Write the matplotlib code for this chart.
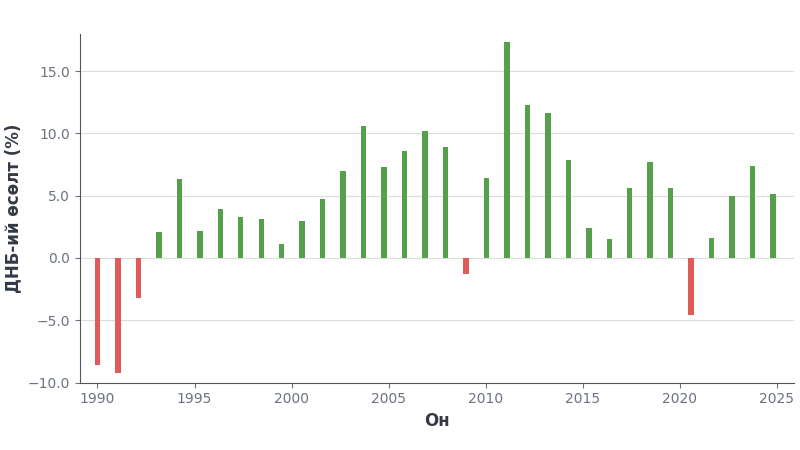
import matplotlib.pyplot as plt
import numpy as np

years = list(range(1990, 2024))
growth = [-8.6, -9.2, -3.2, 2.1, 6.3, 2.2, 3.9, 3.3, 3.1, 1.1,
          3.0, 4.7, 7.0, 10.6, 7.3, 8.6, 10.2, 8.9, -1.3, 6.4,
          17.3, 12.3, 11.6, 7.9, 2.4, 1.5, 5.6, 7.7, 5.6, -4.6,
          1.6, 5.0, 7.4, 5.1]

# bars are spread evenly across 1990..~2024.8 in the reference
x = np.linspace(1990, 2024.8, len(years))
colors = ['#e05a5a' if v < 0 else '#55a04a' for v in growth]

fig, ax = plt.subplots(figsize=(8, 4.5), dpi=100)
ax.bar(x, growth, width=0.28, color=colors, zorder=3)

ax.set_xlim(1989.1, 2025.9)
ax.set_ylim(-10, 18)
ax.set_yticks([-10, -5, 0, 5, 10, 15])
ax.set_yticklabels(['−10.0', '−5.0', '0.0', '5.0', '10.0', '15.0'])
ax.set_xticks(range(1990, 2026, 5))
ax.grid(axis='y', color='#dddddd', linewidth=0.8, zorder=0)
for s in ['top', 'right']:
    ax.spines[s].set_visible(False)
for s in ['left', 'bottom']:
    ax.spines[s].set_color('#555555')
ax.tick_params(colors='#6b7280', labelsize=10)
ax.set_xlabel('Он', fontsize=12, fontweight='bold', color='#333a45')
ax.set_ylabel('ДНБ-ий өсөлт (%)', fontsize=12, fontweight='bold', color='#333a45')

plt.subplots_adjust(left=0.1, right=0.993, top=0.925, bottom=0.15)
plt.savefig('out.png')
